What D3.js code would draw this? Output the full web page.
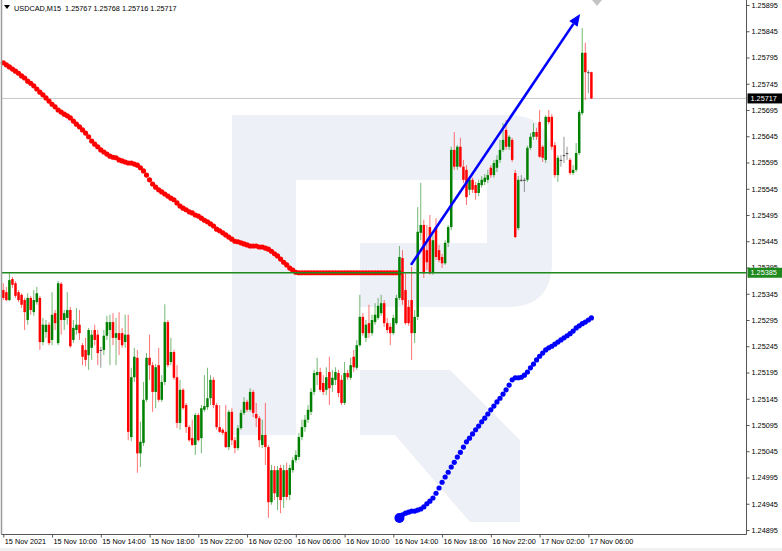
<!DOCTYPE html>
<html><head><meta charset="utf-8">
<script src="https://cdn.jsdelivr.net/npm/d3@7"></script>
<style>
html,body{margin:0;padding:0;background:#fff;}
svg{display:block;}
text{font-family:"Liberation Sans",Arial,sans-serif;}
</style></head>
<body>
<svg id="c" width="782" height="551"></svg>
<script>
// ---------- DATA ----------
const symbolTitle = "USDCAD,M15  1.25767 1.25768 1.25716 1.25717";
const timeLabels = ["15 Nov 2021","15 Nov 10:00","15 Nov 14:00","15 Nov 18:00","15 Nov 22:00","16 Nov 02:00","16 Nov 06:00","16 Nov 10:00","16 Nov 14:00","16 Nov 18:00","16 Nov 22:00","17 Nov 02:00","17 Nov 06:00"];
const timeLabelBars = [0,16,32,48,64,80,96,112,128,144,160,176,192];
const priceTicks = [1.24895,1.24945,1.24995,1.25045,1.25095,1.25145,1.25195,1.25245,1.25295,1.25345,1.25395,1.25445,1.25495,1.25545,1.25595,1.25645,1.25695,1.25745,1.25795,1.25845,1.25895];
const levelPrice = 1.25385;
const lastPrice = 1.25717;

const open = [1.25352,1.25348,1.25333,1.25373,1.25365,1.25348,1.25343,1.25333,1.25295,1.25337,1.25310,1.25329,1.25337,1.25253,1.25272,1.25286,1.25257,1.25308,1.25251,1.25364,1.25295,1.25299,1.25314,1.25257,1.25276,1.25286,1.25247,1.25238,1.25228,1.25242,1.25276,1.25267,1.25238,1.25238,1.25265,1.25276,1.25291,1.25261,1.25270,1.25270,1.25253,1.25267,
1.25072,1.25186,1.25223,1.25041,1.25061,1.25143,1.25223,1.25209,1.25158,1.25209,1.25143,1.25177,1.25291,1.25215,1.25234,1.25186,1.25099,1.25162,1.25133,1.25091,1.25070,1.25057,1.25114,1.25070,1.25124,1.25129,1.25146,1.25181,1.25133,1.25091,1.25086,1.25082,1.25053,1.25120,1.25066,1.25051,1.25089,1.25118,1.25139,1.25124,1.25158,1.25116,1.25108,
1.25057,1.25076,1.25053,1.24948,1.25009,1.24958,1.25013,1.24958,1.25009,1.24962,1.25009,1.25028,1.25034,1.25072,1.25091,1.25105,1.25120,1.25158,1.25190,1.25196,1.25175,1.25162,1.25196,1.25171,1.25181,1.25194,1.25181,1.25137,1.25194,1.25185,1.25225,1.25204,1.25247,1.25301,1.25261,1.25289,1.25270,1.25291,1.25299,1.25308,1.25327,1.25289,1.25282,1.25270,1.25289,
1.25337,1.25413,1.25352,1.25320,1.25333,1.25270,1.25301,1.25461,1.25476,1.25428,1.25472,1.25386,1.25472,1.25428,1.25415,1.25403,1.25442,1.25472,1.25619,1.25587,1.25625,1.25587,1.25581,1.25543,1.25562,1.25552,1.25537,1.25552,1.25558,1.25562,1.25585,1.25571,1.25585,1.25600,1.25619,1.25657,1.25625,1.25638,
1.25575,1.25470,1.25562,1.25562,1.25562,1.25623,1.25644,1.25653,1.25672,1.25625,1.25600,1.25682,1.25682,1.25628,1.25571,1.25600,1.25609,1.25613,1.25600,1.25575,1.25581,1.25613,1.25689,1.25804,1.25767,1.25767];
const high = [1.25365,1.25358,1.25386,1.25377,1.25369,1.25352,1.25346,1.25337,1.25346,1.25341,1.25352,1.25358,1.25341,1.25299,1.25295,1.25291,1.25348,1.25314,1.25369,1.25367,1.25314,1.25348,1.25320,1.25295,1.25318,1.25314,1.25251,1.25261,1.25280,1.25276,1.25286,1.25276,1.25244,1.25276,1.25303,1.25305,1.25308,1.25299,1.25310,1.25280,1.25305,1.25305,
1.25204,1.25242,1.25238,1.25101,1.25177,1.25232,1.25267,1.25215,1.25211,1.25242,1.25190,1.25325,1.25295,1.25261,1.25238,1.25209,1.25181,1.25165,1.25137,1.25095,1.25105,1.25118,1.25118,1.25133,1.25190,1.25204,1.25190,1.25186,1.25137,1.25133,1.25089,1.25133,1.25124,1.25127,1.25072,1.25095,1.25124,1.25148,1.25143,1.25165,1.25162,1.25137,1.25112,
1.25105,1.25137,1.25057,1.25019,1.25017,1.25017,1.25019,1.25019,1.25023,1.25019,1.25034,1.25047,1.25080,1.25105,1.25114,1.25133,1.25165,1.25200,1.25223,1.25204,1.25190,1.25205,1.25225,1.25200,1.25205,1.25200,1.25190,1.25215,1.25200,1.25223,1.25238,1.25257,1.25343,1.25308,1.25295,1.25324,1.25305,1.25327,1.25337,1.25343,1.25333,1.25299,1.25289,1.25305,1.25343,
1.25436,1.25428,1.25384,1.25333,1.25396,1.25314,1.25510,1.25556,1.25486,1.25476,1.25495,1.25457,1.25489,1.25438,1.25421,1.25447,1.25476,1.25625,1.25653,1.25628,1.25642,1.25600,1.25590,1.25569,1.25566,1.25558,1.25562,1.25569,1.25573,1.25581,1.25590,1.25600,1.25609,1.25638,1.25670,1.25676,1.25647,1.25642,
1.25581,1.25569,1.25571,1.25566,1.25627,1.25651,1.25670,1.25661,1.25695,1.25628,1.25685,1.25695,1.25687,1.25634,1.25609,1.25609,1.25644,1.25625,1.25604,1.25590,1.25632,1.25695,1.25851,1.25823,1.25771,1.25768];
const low = [1.25333,1.25331,1.25331,1.25356,1.25337,1.25329,1.25318,1.25276,1.25286,1.25305,1.25303,1.25324,1.25238,1.25247,1.25261,1.25247,1.25247,1.25276,1.25247,1.25267,1.25276,1.25286,1.25242,1.25251,1.25267,1.25257,1.25209,1.25207,1.25200,1.25219,1.25247,1.25209,1.25204,1.25228,1.25257,1.25209,1.25247,1.25209,1.25228,1.25242,1.25242,1.25066,
1.25064,1.25177,1.25004,1.25015,1.25055,1.25139,1.25181,1.25120,1.25127,1.25139,1.25139,1.25171,1.25205,1.25209,1.25181,1.25089,1.25086,1.25124,1.25080,1.25063,1.25055,1.25038,1.25063,1.25041,1.25120,1.25124,1.25133,1.25127,1.25086,1.25080,1.25076,1.25051,1.25047,1.25057,1.25041,1.25047,1.25086,1.25114,1.25120,1.25120,1.25110,1.25091,1.25053,
1.25051,1.25019,1.24918,1.24943,1.24952,1.24933,1.24927,1.24937,1.24952,1.24952,1.25004,1.25023,1.25028,1.25066,1.25082,1.25099,1.25114,1.25152,1.25171,1.25158,1.25152,1.25152,1.25133,1.25158,1.25171,1.25148,1.25133,1.25133,1.25181,1.25181,1.25196,1.25200,1.25244,1.25265,1.25253,1.25261,1.25265,1.25286,1.25295,1.25303,1.25282,1.25270,1.25247,1.25267,1.25286,
1.25333,1.25324,1.25286,1.25284,1.25219,1.25251,1.25295,1.25447,1.25375,1.25390,1.25381,1.25381,1.25409,1.25405,1.25394,1.25400,1.25434,1.25466,1.25581,1.25581,1.25585,1.25556,1.25514,1.25533,1.25537,1.25524,1.25531,1.25547,1.25552,1.25556,1.25566,1.25566,1.25577,1.25594,1.25615,1.25619,1.25619,1.25596,
1.25451,1.25466,1.25558,1.25539,1.25558,1.25619,1.25638,1.25638,1.25604,1.25596,1.25594,1.25668,1.25619,1.25566,1.25558,1.25587,1.25594,1.25600,1.25571,1.25571,1.25577,1.25609,1.25685,1.25714,1.25727,1.25716];
const close = [1.25337,1.25333,1.25371,1.25362,1.25341,1.25333,1.25324,1.25310,1.25337,1.25314,1.25333,1.25346,1.25253,1.25286,1.25286,1.25251,1.25305,1.25289,1.25365,1.25295,1.25308,1.25314,1.25245,1.25280,1.25286,1.25270,1.25225,1.25219,1.25276,1.25267,1.25257,1.25232,1.25238,1.25265,1.25291,1.25291,1.25261,1.25270,1.25257,1.25247,1.25267,1.25082,
1.25186,1.25225,1.25041,1.25063,1.25143,1.25223,1.25209,1.25158,1.25205,1.25143,1.25177,1.25291,1.25209,1.25234,1.25185,1.25099,1.25162,1.25127,1.25091,1.25066,1.25057,1.25114,1.25066,1.25127,1.25131,1.25146,1.25181,1.25133,1.25091,1.25082,1.25080,1.25053,1.25120,1.25066,1.25051,1.25089,1.25118,1.25139,1.25124,1.25158,1.25118,1.25108,1.25066,
1.25076,1.25053,1.24948,1.25009,1.24965,1.25009,1.24952,1.25009,1.24958,1.25013,1.25028,1.25038,1.25072,1.25091,1.25105,1.25124,1.25158,1.25194,1.25196,1.25162,1.25158,1.25186,1.25165,1.25185,1.25196,1.25156,1.25137,1.25194,1.25186,1.25209,1.25205,1.25247,1.25301,1.25270,1.25286,1.25270,1.25295,1.25305,1.25322,1.25327,1.25289,1.25276,1.25270,1.25299,1.25337,
1.25415,1.25333,1.25289,1.25289,1.25270,1.25301,1.25463,1.25476,1.25384,1.25405,1.25384,1.25447,1.25415,1.25409,1.25403,1.25442,1.25472,1.25619,1.25587,1.25625,1.25587,1.25562,1.25529,1.25562,1.25543,1.25537,1.25556,1.25562,1.25566,1.25571,1.25571,1.25594,1.25600,1.25619,1.25638,1.25625,1.25644,1.25600,
1.25453,1.25562,1.25562,1.25562,1.25623,1.25644,1.25653,1.25644,1.25606,1.25604,1.25682,1.25672,1.25625,1.25571,1.25604,1.25600,1.25609,1.25613,1.25575,1.25581,1.25613,1.25691,1.25804,1.25767,1.25767,1.25717];

// red dotted indicator, bars 0..130
const redLine = [1.25785,1.25781,1.25777,1.25773,1.25769,1.25765,1.25760,1.25756,1.25750,1.25746,1.25741,1.25735,1.25729,1.25724,1.25718,1.25712,1.25706,1.25701,1.25695,1.25691,1.25687,1.25684,1.25680,1.25674,1.25668,1.25663,1.25657,1.25651,1.25644,1.25636,1.25630,1.25625,1.25619,1.25615,1.25611,1.25607,1.25605,1.25604,1.25600,1.25598,1.25596,1.25594,1.25594,1.25592,1.25590,1.25585,1.25579,1.25571,1.25562,1.25554,1.25548,1.25543,1.25539,1.25535,1.25531,1.25527,1.25524,1.25518,1.25512,1.25508,1.25505,1.25501,1.25499,1.25495,1.25493,1.25489,1.25485,1.25482,1.25478,1.25474,1.25468,1.25465,1.25461,1.25457,1.25453,1.25449,1.25445,1.25444,1.25442,1.25440,1.25438,1.25436,1.25436,1.25436,1.25434,1.25434,1.25432,1.25430,1.25426,1.25421,1.25417,1.25411,1.25405,1.25400,1.25394,1.25390,1.25386,
1.25385,1.25385,1.25385,1.25385,1.25385,1.25385,1.25385,1.25385,1.25385,1.25385,1.25385,1.25385,1.25385,1.25385,1.25385,1.25385,1.25385,1.25385,1.25385,1.25385,1.25385,1.25385,1.25385,1.25385,1.25385,1.25385,1.25385,1.25385,1.25385,1.25385,1.25385,1.25385,1.25385,1.25385];
const redStart = 0;
// blue dotted indicator, bars 130..193
const blueLine = [1.24918,1.24924,1.24927,1.24929,1.24931,1.24931,1.24933,1.24935,1.24939,1.24945,1.24950,1.24956,1.24965,1.24975,1.24986,1.24996,1.25005,1.25015,1.25024,1.25034,1.25043,1.25053,1.25063,1.25070,1.25078,1.25086,1.25093,1.25101,1.25108,1.25116,1.25124,1.25131,1.25139,1.25146,1.25154,1.25162,1.25171,1.25181,1.25185,1.25185,1.25186,1.25190,1.25196,1.25204,1.25211,1.25219,1.25226,1.25232,1.25238,1.25242,1.25245,1.25249,1.25253,1.25257,1.25261,1.25265,1.25269,1.25274,1.25280,1.25284,1.25288,1.25291,1.25295,1.25299];
const blueStart = 130;
// trend arrow: [bar, price]
const arrowFrom = [133.8, 1.25400];
const arrowTo = [189.3, 1.25878];

// ---------- DRAW ----------
const svg = d3.select("#c");
const W = 782, H = 551;
const plotL = 1.5, plotR = 746.5, plotB = 534.5;
const x = d3.scaleLinear().domain([0, 193]).range([3.3, 591.4]);
const y = d3.scaleLinear().domain([1.24895, 1.25895]).range([530, 5]);

svg.append("rect").attr("width", W).attr("height", H).attr("fill", "#fff");
svg.append("rect").attr("x",0).attr("y",548).attr("width",W).attr("height",3).attr("fill","#f0f0f0");

// watermark (logo)
const wm = svg.append("g").attr("fill", "#edf0f6");
wm.append("rect").attr("x",232).attr("y",115).attr("width",64).attr("height",320);
wm.append("path").attr("d","M232,115 H507 Q552,115 552,160 V262 Q552,307 507,307 H360 V243 H487 V180 H232 Z");
wm.append("path").attr("d","M360,370 H450 L520,440 V522 H470 L395,435 H360 Z");

// price level lines
svg.append("line").attr("x1",plotL).attr("x2",plotR).attr("y1",y(lastPrice)).attr("y2",y(lastPrice))
  .attr("stroke","#c8c8c8").attr("stroke-width",1);

// red indicator
svg.append("g").selectAll("circle").data(redLine).join("circle")
  .attr("cx",(d,i)=>x(redStart+i)).attr("cy",d=>y(d)).attr("r",2.6).attr("fill","#ff0000");

// candles
const bars = open.map((o,i)=>({i, o, h:high[i], l:low[i], c:close[i]}));
const col = d => d.c > d.o ? "#008000" : (d.c < d.o ? "#ff0000" : "#404040");
const cg = svg.append("g");
cg.selectAll("line").data(bars).join("line")
  .attr("x1",d=>x(d.i)).attr("x2",d=>x(d.i)).attr("y1",d=>y(d.h)).attr("y2",d=>y(d.l))
  .attr("stroke",col).attr("stroke-width",1).attr("stroke-opacity",0.55);
cg.selectAll("rect").data(bars).join("rect")
  .attr("x",d=>x(d.i)-1.25).attr("width",2.5)
  .attr("y",d=>y(Math.max(d.o,d.c))).attr("height",d=>Math.max(1,Math.abs(y(d.o)-y(d.c))))
  .attr("fill",col);

// green level line
svg.append("line").attr("x1",plotL).attr("x2",plotR).attr("y1",y(levelPrice)).attr("y2",y(levelPrice))
  .attr("stroke","#1e8a1e").attr("stroke-width",1.6);

// blue indicator
svg.append("g").selectAll("circle").data(blueLine).join("circle")
  .attr("cx",(d,i)=>x(blueStart+i)).attr("cy",d=>y(d)).attr("r",(d,i)=>i===0?5:2.6).attr("fill","#0000ff");

// arrow
const ax1 = x(arrowFrom[0]), ay1 = y(arrowFrom[1]), ax2 = x(arrowTo[0]), ay2 = y(arrowTo[1]);
const ang = Math.atan2(ay2-ay1, ax2-ax1);
const hl = 12, hw = 5;
const bx = ax2 - hl*Math.cos(ang), by = ay2 - hl*Math.sin(ang);
svg.append("line").attr("x1",ax1).attr("y1",ay1).attr("x2",bx).attr("y2",by)
  .attr("stroke","#0000ff").attr("stroke-width",2.6);
svg.append("path").attr("d",`M${ax2},${ay2} L${bx+hw*Math.sin(ang)},${by-hw*Math.cos(ang)} L${bx-hw*Math.sin(ang)},${by+hw*Math.cos(ang)} Z`)
  .attr("fill","#0000ff");

// frame
svg.append("line").attr("x1",plotL).attr("x2",plotL).attr("y1",0).attr("y2",plotB).attr("stroke","#9a9a9a").attr("stroke-width",1.5);
svg.append("line").attr("x1",plotL).attr("x2",plotR).attr("y1",plotB).attr("y2",plotB).attr("stroke","#555").attr("stroke-width",1);
svg.append("line").attr("x1",plotR).attr("x2",plotR).attr("y1",0).attr("y2",plotB).attr("stroke","#555").attr("stroke-width",1);

// right axis
const yAxis = svg.append("g").attr("transform",`translate(${plotR},0)`)
  .call(d3.axisRight(y).tickValues(priceTicks).tickSize(3).tickPadding(2).tickFormat(d3.format(".5f")));
yAxis.select(".domain").remove();
yAxis.selectAll("line").attr("stroke","#555");
yAxis.selectAll("text").attr("font-size","7.3px").attr("fill","#000").attr("font-family","Liberation Sans, Arial, sans-serif");

// bottom axis
const xAxis = svg.append("g").attr("transform",`translate(0,${plotB})`)
  .call(d3.axisBottom(x).tickValues(timeLabelBars).tickSize(3).tickFormat((d,i)=>timeLabels[i]));
xAxis.select(".domain").remove();
xAxis.selectAll("line").attr("stroke","#555");
xAxis.selectAll("text").attr("font-size","7.3px").attr("fill","#000").attr("text-anchor","start")
  .attr("x",1).attr("y",9).attr("dy",0).attr("font-family","Liberation Sans, Arial, sans-serif");

// price labels
function priceTag(p, fill){
  const g = svg.append("g");
  g.append("rect").attr("x",plotR+1).attr("y",y(p)-5).attr("width",W-plotR-1).attr("height",10).attr("fill",fill);
  g.append("text").attr("x",plotR+4).attr("y",y(p)+2.6).attr("font-size","7.3px").attr("fill","#fff").text(d3.format(".5f")(p));
}
priceTag(levelPrice, "#1e8a1e");
priceTag(lastPrice, "#000");

// header
svg.append("path").attr("d","M4,5 L10,5 L7,9 Z").attr("fill","#000");
svg.append("text").attr("x",14).attr("y",10.5).attr("font-size","7.3px").attr("fill","#000")
  .attr("xml:space","preserve").style("white-space","pre").text(symbolTitle);
// shift marker
svg.append("path").attr("d","M592,0 L602,0 L597,6 Z").attr("fill","#c4c4c4");
</script>
</body></html>
